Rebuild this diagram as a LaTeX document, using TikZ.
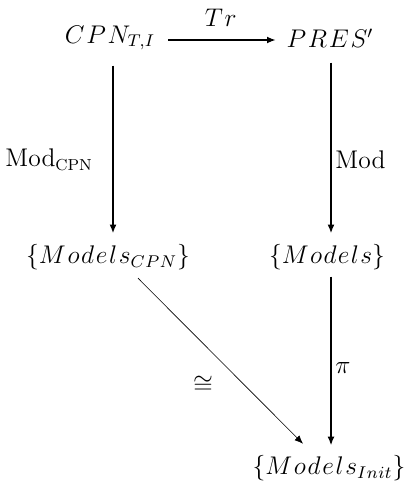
\documentclass[tikz,border=0pt]{standalone}
\usetikzlibrary{arrows.meta}
\newcommand{\ks}{\mkern1.2mu}
\begin{document}
\begin{tikzpicture}[x=0.47pt,y=-0.47pt,
  obj/.style={inner sep=0pt, font=\large},
  lbl/.style={inner sep=0pt, font=\large},
  thick arrow/.style={line width=0.6pt, -{Latex[length=4pt,width=3.2pt]}},
  thin arrow/.style={line width=0.3pt, -{Latex[length=4pt,width=3.2pt]}}]
\useasboundingbox (0,0) rectangle (407,489);
\node[obj] (cpn) at (110,38) {$C\ks P\ks N_{T,I}$};
\node[obj] (pres) at (330,38) {$P\ks R\ks E\ks S'$};
\node[obj] (mcpn) at (108,257) {$\{M\ks o\ks d\ks e\ks l\ks s_{C\mkern0.5mu P\mkern0.5mu N}\}$};
\node[obj] (models) at (327,257) {$\{M\mkern1mu o\mkern1mu d\mkern1mu e\mkern1mu l\mkern1mu s\}$};
\node[obj] (init) at (329,468) {$\{M\ks o\ks d\ks e\ks l\ks s_{I\mkern0.5mu n\mkern0.5mu i\mkern0.5mu t}\}$};
% top arrow
\draw[thick arrow, shorten <=6pt, shorten >=5pt] (cpn.east |- 0,40) -- (pres.west |- 0,40)
  node[midway, lbl, above=6pt] (tr) {$T\ks r$};
% left vertical
\draw[thick arrow, shorten <=7pt, shorten >=5pt] (cpn.south -| 113,0) -- (mcpn.north -| 113,0);
\node[lbl, anchor=west] (modcpn) at (5,160) {$\mathrm{Mod}_{\hbox{\fontsize{7.5}{9}\selectfont CPN}}$};
% right vertical
\draw[thick arrow, shorten <=7pt, shorten >=5pt] (pres.south -| 331,0) -- (models.north -| 331,0);
\node[lbl, anchor=west] (mod) at (335,160) {$\mathrm{Mod}$};
% pi
\draw[thick arrow, shorten <=3pt, shorten >=4.5pt] (models.south -| 331,0) -- (init.north -| 331,0);
\node[lbl, anchor=west] (pi) at (335,368) {$\pi$};
% diagonal
\path (mcpn.south) ++(30,8) coordinate (d1);
\path (init.north) ++(-26,-11) coordinate (d2);
\draw[thin arrow] (d1) -- (d2);
\node[lbl] (iso) at (203,385) {$\cong$};
\end{tikzpicture}
\end{document}
